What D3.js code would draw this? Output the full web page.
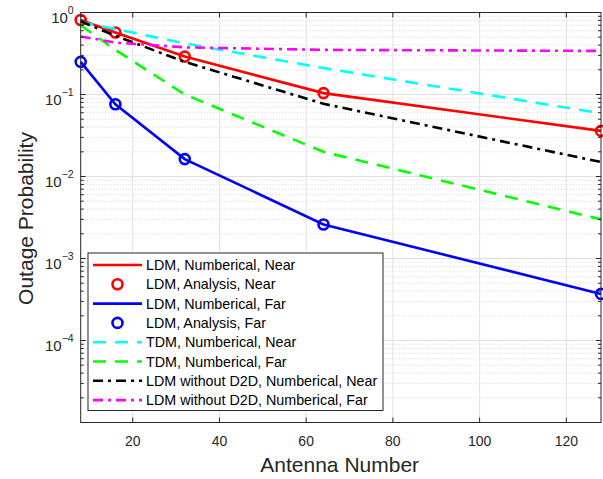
<!DOCTYPE html>
<html>
<head>
<meta charset="utf-8">
<script src="https://cdn.jsdelivr.net/npm/d3@7"></script>
<style>
body { margin: 0; background: #fff; }
text { font-family: "Liberation Sans", Arial, Helvetica, sans-serif; }
</style>
</head>
<body>
<div id="chart"></div>
<script>
// values
var antennas = [8, 16, 32, 64, 128];
var ldmNumNear = [0.81, 0.57, 0.29, 0.104, 0.036];
var ldmAnaNear = [0.81, 0.57, 0.29, 0.104, 0.036];
var ldmNumFar = [0.25, 0.076, 0.0163, 0.0026, 0.00037];
var ldmAnaFar = [0.25, 0.076, 0.0163, 0.0026, 0.00037];
var tdmNear = [0.76, 0.63, 0.42, 0.21, 0.059];
var tdmFar = [0.70, 0.35, 0.10, 0.020, 0.0030];
var noD2dNear = [0.78, 0.52, 0.25, 0.077, 0.015];
var noD2dFar = [0.51, 0.43, 0.376, 0.35, 0.34];

var xTicks = [20, 40, 60, 80, 100, 120];
var yDecades = [0, -1, -2, -3, -4];

var width = 603, height = 479;
var margin = {left: 80.7, right: 2, top: 12.5, bottom: 56.5};
var axisColor = "#262626";

var svg = d3.select("#chart").append("svg")
    .attr("width", width)
    .attr("height", height);

svg.append("rect").attr("width", width).attr("height", height).attr("fill", "#fff");

var x = d3.scaleLinear().domain([8, 128]).range([margin.left, width - margin.right]);
var y = d3.scaleLog().domain([1e-5, 1]).range([height - margin.bottom, margin.top]);

var x0 = x.range()[0], x1 = x.range()[1];
var y0 = y.range()[0], y1 = y.range()[1];

// minor y grid (dotted)
var minorY = [];
for (var e = -5; e < 0; e++) {
    for (var m = 2; m <= 9; m++) minorY.push(m * Math.pow(10, e));
}
svg.append("g").selectAll("line").data(minorY).enter().append("line")
    .attr("x1", x0).attr("x2", x1)
    .attr("y1", d => y(d)).attr("y2", d => y(d))
    .attr("stroke", "#d4d4d4").attr("stroke-width", 1)
    .attr("stroke-dasharray", "1,2");

// major grid
svg.append("g").selectAll("line").data(yDecades).enter().append("line")
    .attr("x1", x0).attr("x2", x1)
    .attr("y1", d => y(Math.pow(10, d))).attr("y2", d => y(Math.pow(10, d)))
    .attr("stroke", "#e0e0e0").attr("stroke-width", 1);
svg.append("g").selectAll("line").data(xTicks).enter().append("line")
    .attr("x1", d => x(d)).attr("x2", d => x(d))
    .attr("y1", y0).attr("y2", y1)
    .attr("stroke", "#e0e0e0").attr("stroke-width", 1);

// series
var series = [
    {name: "LDM, Numberical, Near", vals: ldmNumNear, color: "#ff0000", dash: null, type: "line"},
    {name: "LDM, Analysis, Near", vals: ldmAnaNear, color: "#ff0000", type: "marker"},
    {name: "LDM, Numberical, Far", vals: ldmNumFar, color: "#0000ff", dash: null, type: "line"},
    {name: "LDM, Analysis, Far", vals: ldmAnaFar, color: "#0000ff", type: "marker"},
    {name: "TDM, Numberical, Near", vals: tdmNear, color: "#00ffff", dash: "13,9", type: "line"},
    {name: "TDM, Numberical, Far", vals: tdmFar, color: "#00ff00", dash: "13,9", type: "line"},
    {name: "LDM without D2D, Numberical, Near", vals: noD2dNear, color: "#000000", dash: "10,5,3,5", type: "line"},
    {name: "LDM without D2D, Numberical, Far", vals: noD2dFar, color: "#ff00ff", dash: "10,5,3,5", type: "line"}
];

var line = d3.line().x(d => x(d[0])).y(d => y(d[1]));

series.forEach(function (s) {
    var pts = antennas.map((a, i) => [a, s.vals[i]]);
    if (s.type === "line") {
        svg.append("path").datum(pts)
            .attr("d", line)
            .attr("fill", "none")
            .attr("stroke", s.color)
            .attr("stroke-width", 2.6)
            .attr("stroke-dasharray", s.dash);
    } else {
        svg.append("g").selectAll("circle").data(pts).enter().append("circle")
            .attr("cx", d => x(d[0])).attr("cy", d => y(d[1]))
            .attr("r", 5)
            .attr("fill", "none")
            .attr("stroke", s.color)
            .attr("stroke-width", 2.6);
    }
});

// axes box and ticks
var ax = svg.append("g").attr("stroke", axisColor).attr("stroke-width", 1).attr("fill", "none");
ax.append("rect").attr("x", x0).attr("y", y1).attr("width", x1 - x0).attr("height", y0 - y1);

xTicks.forEach(function (t) {
    ax.append("line").attr("x1", x(t)).attr("x2", x(t)).attr("y1", y0).attr("y2", y0 - 5);
    ax.append("line").attr("x1", x(t)).attr("x2", x(t)).attr("y1", y1).attr("y2", y1 + 5);
});
yDecades.forEach(function (d) {
    var yy = y(Math.pow(10, d));
    ax.append("line").attr("x1", x0).attr("x2", x0 + 5).attr("y1", yy).attr("y2", yy);
    ax.append("line").attr("x1", x1).attr("x2", x1 - 5).attr("y1", yy).attr("y2", yy);
});
minorY.forEach(function (v) {
    var yy = y(v);
    ax.append("line").attr("x1", x0).attr("x2", x0 + 3).attr("y1", yy).attr("y2", yy);
    ax.append("line").attr("x1", x1).attr("x2", x1 - 3).attr("y1", yy).attr("y2", yy);
});

// tick labels
svg.append("g").selectAll("text").data(xTicks).enter().append("text")
    .attr("x", d => x(d)).attr("y", y0 + 23)
    .attr("text-anchor", "middle")
    .attr("font-size", 14)
    .attr("fill", axisColor)
    .text(d => d);

var yl = svg.append("g").selectAll("text").data(yDecades).enter().append("text")
    .attr("x", x0 - 7).attr("y", d => y(Math.pow(10, d)) + 10)
    .attr("text-anchor", "end")
    .attr("font-size", 15)
    .attr("fill", axisColor);
yl.append("tspan").text("10");
yl.append("tspan").attr("dy", -8.5).attr("font-size", 10.5).text(d => d === 0 ? "0" : "\u2212" + (-d));

// axis titles
svg.append("text")
    .attr("x", 339.7).attr("y", 472)
    .attr("text-anchor", "middle")
    .attr("font-size", 21)
    .attr("fill", axisColor)
    .text("Antenna Number");
svg.append("text")
    .attr("transform", "translate(33,218.5) rotate(-90)")
    .attr("text-anchor", "middle")
    .attr("font-size", 21)
    .attr("fill", axisColor)
    .text("Outage Probability");

// legend
var lg = svg.append("g").attr("transform", "translate(88,253)");
var rowH = 19.3;
lg.append("rect")
    .attr("width", 295).attr("height", 157.5)
    .attr("fill", "#fff").attr("stroke", axisColor).attr("stroke-width", 1);
series.forEach(function (s, i) {
    var cy = 12 + i * rowH;
    if (s.type === "line") {
        lg.append("line")
            .attr("x1", 5).attr("x2", 54).attr("y1", cy).attr("y2", cy)
            .attr("stroke", s.color).attr("stroke-width", 2.6)
            .attr("stroke-dasharray", s.dash);
    } else {
        lg.append("circle").attr("cx", 29.5).attr("cy", cy).attr("r", 5)
            .attr("fill", "none").attr("stroke", s.color).attr("stroke-width", 2.6);
    }
    lg.append("text")
        .attr("x", 58).attr("y", cy + 5)
        .attr("font-size", 14.3)
        .attr("fill", "#000")
        .text(s.name);
});
</script>
</body>
</html>
